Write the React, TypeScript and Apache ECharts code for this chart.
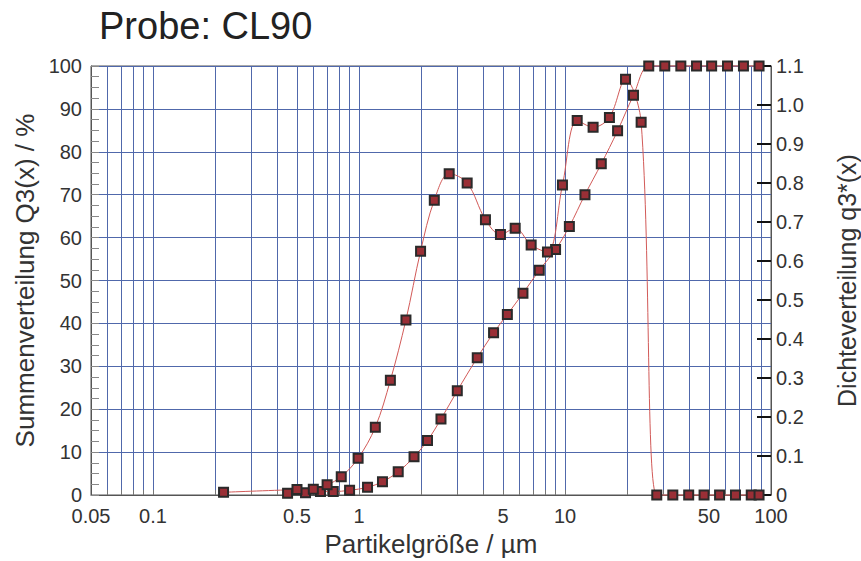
import React, { useEffect, useRef } from 'react';
import * as echarts from 'echarts';

const TITLE = 'Probe: CL90';
const X_NAME = 'Partikelgröße / µm';
const Y_LEFT_NAME = 'Summenverteilung Q3(x) / %';
const Y_RIGHT_NAME = 'Dichteverteilung q3*(x)';

const X_LABEL_VALUES = [0.05, 0.1, 0.5, 1, 5, 10, 50, 100];
const X_LABEL_TEXTS = ['0.05', '0.1', '0.5', '1', '5', '10', '50', '100'];
const X_GRID_VALUES = [
  0.06, 0.07, 0.08, 0.09, 0.1, 0.2, 0.3, 0.4, 0.5, 0.6, 0.7, 0.8, 0.9,
  1, 2, 3, 4, 5, 6, 7, 8, 9, 10, 20, 30, 40, 50, 60, 70, 80, 90,
];

// Cumulative distribution Q3(x) in % at class upper limits (µm)
const Q3_X = [
  0.45, 0.55, 0.65, 0.75, 0.9, 1.1, 1.3, 1.55, 1.85, 2.15, 2.5, 3.0, 3.75, 4.5,
  5.25, 6.25, 7.5, 9.0, 10.5, 12.5, 15.0, 18.0, 21.5, 25.5, 30.5, 36.5, 43.5,
  51.5, 61.5, 73.5, 87.5,
];
const Q3_Y = [
  0.4, 0.5, 0.8, 0.8, 1.1, 1.8, 3.1, 5.4, 8.9, 12.7, 17.7, 24.3, 32.0, 37.8,
  42.1, 47.0, 52.4, 57.2, 62.6, 70.0, 77.2, 84.9, 93.2, 100, 100, 100, 100,
  100, 100, 100, 100,
];

// Density distribution q3*(x)
const DENS_X = [
  0.22, 0.5, 0.6, 0.7, 0.82, 0.99, 1.2, 1.42, 1.69, 1.99, 2.32, 2.74, 3.35,
  4.11, 4.86, 5.73, 6.85, 8.22, 9.72, 11.46, 13.69, 16.43, 19.67, 23.42,
  27.89, 33.37, 39.85, 47.33, 56.28, 67.23, 80.19, 87.5,
];
const DENS_Y = [
  0.007, 0.014, 0.015, 0.026, 0.047, 0.094, 0.174, 0.294, 0.449, 0.625, 0.756,
  0.824, 0.8, 0.706, 0.668, 0.684, 0.641, 0.623, 0.795, 0.96, 0.943, 0.968,
  1.066, 0.956, 0, 0, 0, 0, 0, 0, 0, 0,
];

const FONT = '"Liberation Sans", Arial, sans-serif';
const GRID_BLUE = '#5068ab';
const LINE_RED = '#d25a58';
const MARK_FILL = '#9a2f36';
const MARK_BORDER = '#2a2a2a';

function xLabel(v: number): string {
  let best = 0;
  let bestD = Infinity;
  X_LABEL_VALUES.forEach((t, i) => {
    const d = Math.abs(Math.log10(v) - Math.log10(t));
    if (d < bestD) {
      bestD = d;
      best = i;
    }
  });
  return X_LABEL_TEXTS[best];
}

export default function App() {
  const ref = useRef<HTMLDivElement>(null);

  useEffect(() => {
    if (!ref.current) return;
    const chart = echarts.init(ref.current, undefined, { renderer: 'svg' });

    const seriesStyle = {
      type: 'line' as const,
      smooth: 0.35,
      symbol: 'rect',
      symbolSize: 9,
      clip: false,
      lineStyle: { color: LINE_RED, width: 1 },
      itemStyle: { color: MARK_FILL, borderColor: MARK_BORDER, borderWidth: 2 },
      emphasis: { disabled: true },
    };

    chart.setOption({
      animation: false,
      backgroundColor: '#ffffff',
      title: {
        text: TITLE,
        left: 94,
        top: 2,
        textStyle: { fontSize: 38, fontWeight: 'normal', color: '#222', fontFamily: FONT },
      },
      grid: {
        left: 91,
        right: 90,
        top: 66,
        bottom: 66,
        show: true,
        borderColor: '#555',
        borderWidth: 1,
        containLabel: false,
        outerBoundsMode: 'none',
      },
      xAxis: [
        {
          type: 'log',
          logBase: 10,
          min: 0.05,
          max: 100,
          name: X_NAME,
          nameLocation: 'middle',
          nameGap: 35,
          nameTextStyle: { fontSize: 26, color: '#333', fontFamily: FONT },
          axisLine: { show: true, lineStyle: { color: '#555' } },
          axisTick: {
            show: true,
            inside: true,
            length: 5,
            customValues: X_GRID_VALUES,
            lineStyle: { color: '#777' },
          },
          axisLabel: {
            customValues: X_LABEL_VALUES,
            formatter: (v: number) => xLabel(v),
            fontSize: 20,
            color: '#333',
            fontFamily: FONT,
            margin: 11,
          },
          splitLine: { show: true, lineStyle: { color: GRID_BLUE, width: 1 } },
          minorTick: { show: false },
          minorSplitLine: { show: false },
        },
      ],
      yAxis: [
        {
          type: 'value',
          position: 'left',
          min: 0,
          max: 100,
          interval: 10,
          name: Y_LEFT_NAME,
          nameLocation: 'middle',
          nameRotate: 90,
          nameGap: 53,
          nameTextStyle: { fontSize: 26, color: '#333', fontFamily: FONT },
          axisLine: { show: true, lineStyle: { color: '#555' } },
          axisTick: { show: true, inside: true, length: 8, lineStyle: { color: '#888' } },
          minorTick: { show: true, splitNumber: 4, length: 8, lineStyle: { color: '#888' } },
          axisLabel: { fontSize: 20, color: '#333', fontFamily: FONT, margin: 9 },
          splitLine: { show: true, lineStyle: { color: GRID_BLUE, width: 1 } },
        },
        {
          type: 'value',
          position: 'right',
          min: 0,
          max: 1.1,
          interval: 0.1,
          name: Y_RIGHT_NAME,
          nameLocation: 'middle',
          nameRotate: 90,
          nameGap: 63,
          nameTextStyle: { fontSize: 25, color: '#333', fontFamily: FONT },
          axisLine: { show: true, lineStyle: { color: '#555' } },
          axisTick: { show: true, inside: true, length: 14, lineStyle: { color: '#111', width: 2 } },
          axisLabel: {
            fontSize: 20,
            color: '#333',
            fontFamily: FONT,
            margin: 5,
            formatter: (v: number) => (v === 0 ? '0' : v.toFixed(1)),
          },
          splitLine: { show: false },
        },
      ],
      series: [
        {
          ...seriesStyle,
          name: 'Q3',
          yAxisIndex: 0,
          data: Q3_X.map((x, i) => [x, Q3_Y[i]]),
        },
        {
          ...seriesStyle,
          name: 'q3*',
          yAxisIndex: 1,
          data: DENS_X.map((x, i) => [x, DENS_Y[i]]),
        },
      ],
    });

    return () => chart.dispose();
  }, []);

  return (
    <div
      ref={ref}
      style={{ position: 'fixed', left: 0, top: 0, width: 861, height: 561, background: '#fff' }}
    />
  );
}
